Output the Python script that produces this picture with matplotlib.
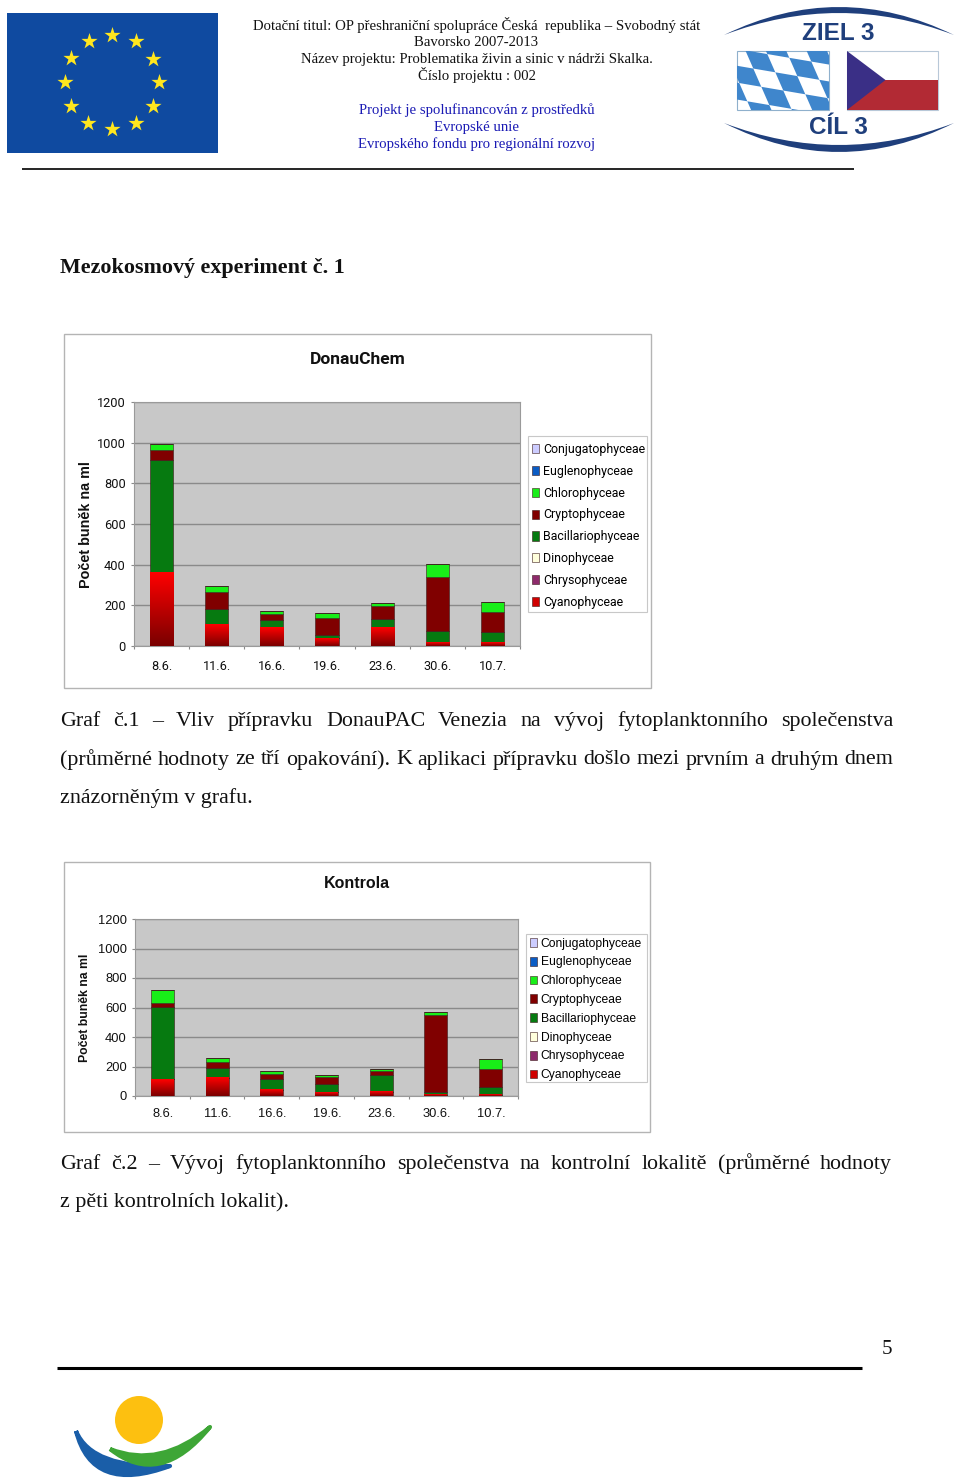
import numpy as np
import matplotlib
matplotlib.use('Agg')
import matplotlib.pyplot as plt
from matplotlib.colors import LinearSegmentedColormap
from matplotlib.patches import Rectangle, Polygon, PathPatch, Circle
from matplotlib.path import Path

W, H = 960, 1482
SERIF = ['Liberation Serif', 'DejaVu Serif']
SANS = ['Liberation Sans', 'DejaVu Sans']
NARROW = ['Roboto', 'Liberation Sans', 'DejaVu Sans']

dates = ['8.6.', '11.6.', '16.6.', '19.6.', '23.6.', '30.6.', '10.7.']
y_ticks = [0, 200, 400, 600, 800, 1000, 1200]

series_names = ['Cyanophyceae', 'Chrysophyceae', 'Dinophyceae', 'Bacillariophyceae',
                'Cryptophyceae', 'Chlorophyceae', 'Euglenophyceae', 'Conjugatophyceae']
series_colors = ['#d00000', '#8e2a6c', '#ffffdc', '#067a10',
                 '#800000', '#18ee18', '#0a5cc4', '#ccccff']

# DonauChem, bottom to top
d_cyano = [360, 105, 90, 38, 92, 15, 18]
d_chryso = [0, 0, 0, 0, 0, 0, 0]
d_dino = [0, 0, 0, 0, 0, 0, 0]
d_bacil = [555, 75, 40, 17, 43, 57, 50]
d_crypto = [50, 85, 28, 83, 60, 266, 99]
d_chloro = [28, 30, 14, 22, 15, 64, 51]
d_eugl = [0, 0, 0, 0, 0, 0, 0]
d_conj = [0, 0, 0, 0, 0, 0, 0]

# Kontrola, bottom to top
k_cyano = [115, 125, 42, 25, 30, 8, 10]
k_chryso = [0, 0, 0, 0, 0, 0, 0]
k_dino = [0, 0, 0, 0, 0, 0, 0]
k_bacil = [490, 63, 70, 53, 115, 17, 52]
k_crypto = [27, 42, 38, 52, 25, 523, 120]
k_chloro = [88, 25, 20, 15, 15, 22, 66]
k_eugl = [0, 0, 0, 0, 0, 0, 0]
k_conj = [0, 0, 0, 0, 0, 0, 0]

header_black = ['Dotační titul: OP přeshraniční spolupráce Česká  republika – Svobodný stát',
                'Bavorsko 2007-2013',
                'Název projektu: Problematika živin a sinic v nádrži Skalka.',
                'Číslo projektu : 002']
header_blue = ['Projekt je spolufinancován z prostředků',
               'Evropské unie',
               'Evropského fondu pro regionální rozvoj']

BODY = 15.8

fig = plt.figure(figsize=(W / 100, H / 100), dpi=100, facecolor='white')
page = fig.add_axes([0, 0, 1, 1])
page.set_xlim(0, W)
page.set_ylim(H, 0)
page.axis('off')


def justified(line, x0, x1, y):
    # spread the words of one line between x0 and x1, like the Word page does
    words = line.split(' ')
    rend = fig.canvas.get_renderer()
    items = [page.text(x0, y, w, family=SERIF, fontsize=BODY, va='baseline', color='#111111') for w in words]
    widths = [t.get_window_extent(rend).width for t in items]
    gap = (x1 - x0 - sum(widths)) / (len(words) - 1)
    x = x0
    for t, w in zip(items, widths):
        t.set_x(x)
        x += w + gap


def crescent(x0, x1, y_end, c_in, c_out, color):
    mid = (x0 + x1) / 2
    verts = [(x0, y_end), (mid, c_out), (x1, y_end), (mid, c_in), (x0, y_end)]
    codes = [Path.MOVETO, Path.CURVE3, Path.CURVE3, Path.CURVE3, Path.CURVE3]
    page.add_patch(PathPatch(Path(verts, codes), fc=color, ec='none'))


def stroke(p0, c, p1, thick, color):
    # brush stroke of the bottom logo
    verts = [p0, (c[0], c[1] - thick), p1, (c[0], c[1] + thick), p0]
    codes = [Path.MOVETO, Path.CURVE3, Path.CURVE3, Path.CURVE3, Path.CURVE3]
    page.add_patch(PathPatch(Path(verts, codes), fc=color, ec=color, lw=3, joinstyle='round'))


def chart(box, plot, legend_box, title, title_y, title_font, title_size, ylab_x, ylab_y, ylab_size,
          tick_font, tick_size, label_y, values, leg_size, leg_font, leg_top, leg_gap):
    page.add_patch(Rectangle((box[0], box[1]), box[2] - box[0], box[3] - box[1], fc='white', ec='#b4b4b4', lw=1))
    page.add_patch(Rectangle((legend_box[0], legend_box[1]), legend_box[2] - legend_box[0],
                             legend_box[3] - legend_box[1], fc='white', ec='#c8c8c8', lw=0.8))
    page.text((box[0] + box[2]) / 2 + 0.5, title_y, title, family=title_font, fontsize=title_size,
              fontweight='bold', ha='center', va='center', color='#111111')
    page.text(ylab_x, ylab_y, 'Počet buněk na ml', family=SANS, fontsize=ylab_size,
              fontweight='bold', rotation=90, ha='center', va='center', color='#111111')

    ax = fig.add_axes([plot[0] / W, 1 - plot[3] / H, (plot[2] - plot[0]) / W, (plot[3] - plot[1]) / H])
    ax.set_facecolor('#c8c8c8')
    x = np.arange(len(dates))
    bottom = np.zeros(len(dates))
    handles = []
    for vals, name, col in zip(values, series_names, series_colors):
        bars = ax.bar(x, vals, 0.42, bottom=bottom, color=col, edgecolor='#3a1a1a', linewidth=0.4,
                      label=name, zorder=3)
        handles.append(bars)
        bottom = bottom + np.array(vals)

    # Cyanophyceae fade to dark towards the axis in the original
    cm = LinearSegmentedColormap.from_list('fade', ['#7a0000', '#ff0000'])
    for p in handles[0]:
        ax.imshow(np.linspace(1, 0, 64).reshape(-1, 1), cmap=cm, aspect='auto', zorder=3.5,
                  extent=(p.get_x(), p.get_x() + p.get_width(), 0, p.get_height()))

    ax.set_xlim(-0.5, len(dates) - 0.5)
    ax.set_ylim(0, 1200)
    ax.set_yticks(y_ticks)
    ax.set_yticklabels([str(v) for v in y_ticks], family=tick_font, fontsize=tick_size, color='#111111')
    ax.set_xticks(np.arange(len(dates) + 1) - 0.5)
    ax.set_xticklabels([''] * (len(dates) + 1))
    ax.grid(axis='y', color='#8a8a8a', lw=1, zorder=1)
    ax.tick_params(axis='y', length=2.5, color='#8a8a8a', pad=3.5)
    ax.tick_params(axis='x', length=2.5, color='#8a8a8a')
    for s in ax.spines.values():
        s.set_color('#9a9a9a')
        s.set_linewidth(0.8)
    for i, d in enumerate(dates):
        page.text(plot[0] + (i + 0.5) * (plot[2] - plot[0]) / 7 + 0.5, label_y, d, family=tick_font,
                  fontsize=tick_size, ha='center', va='center', color='#111111')

    # legend: topmost series first, like the Excel chart
    hs = [h[0] for h in handles][::-1]
    leg = ax.legend(hs, series_names[::-1], loc='upper left',
                    bbox_to_anchor=(legend_box[0] / W, 1 - leg_top / H), bbox_transform=fig.transFigure,
                    prop={'family': leg_font, 'size': leg_size}, frameon=False, borderaxespad=0, borderpad=0.3,
                    handlelength=0.62, handleheight=0.75, handletextpad=0.3, labelspacing=leg_gap)
    leg.set_zorder(10)
    return ax


# header logos
page.add_patch(Rectangle((7, 13), 211, 140, fc='#0f4aa0', ec='none'))
angles = np.arange(12) * np.pi / 6
page.scatter(112 + 47 * np.sin(angles), 82 + 47 * np.cos(angles), marker='*', s=150, c='#ffe61e', linewidths=0, zorder=3)

crescent(724, 954, 35, -9, -21, '#1f3f7c')
crescent(724, 954, 123, 167, 181, '#1f3f7c')
page.text(838, 33, 'ZIEL 3', family=SANS, fontsize=17.5, fontweight='bold', ha='center', va='center', color='#1f3f7c')
page.text(838, 128, 'CÍL 3', family=SANS, fontsize=17.5, fontweight='bold', ha='center', va='center', color='#1f3f7c')

bav = Rectangle((737, 51), 92, 59, fc='white', ec='#8fb0cc', lw=0.8)
page.add_patch(bav)
u = np.array([30.0, 22.0])
v = np.array([-14.0, 14.5])
anchor = np.array([760.3, 61.3])
for i in range(-5, 6):
    for j in range(-5, 6):
        c = anchor + i * u + j * v
        poly = Polygon([c - u / 2, c - v / 2, c + u / 2, c + v / 2], fc='#3f86cc', ec='none')
        page.add_patch(poly)
        poly.set_clip_path(bav)
page.add_patch(Rectangle((847, 51), 91, 59, fc='white', ec='#b8c8d8', lw=0.8))
page.add_patch(Rectangle((847, 80), 91, 30, fc='#b22a34', ec='none'))
page.add_patch(Polygon([(847, 51), (885.5, 80), (847, 110)], fc='#3a2f86', ec='none'))

for line, y in zip(header_black, [25, 42, 59, 75]):
    page.text(476.5, y, line, family=SERIF, fontsize=10.6, ha='center', va='center', color='#111111')
for line, y in zip(header_blue, [110, 127, 144]):
    page.text(476.5, y, line, family=SERIF, fontsize=10.6, ha='center', va='center', color='#1a1ab4')
page.plot([22, 854], [169, 169], color='black', lw=1.2, solid_capstyle='butt')

page.text(60, 273, 'Mezokosmový experiment č. 1', family=SERIF, fontsize=15.8, fontweight='bold', va='baseline', color='#111111')

chart((63.5, 333.5, 651, 688), (134, 402, 520, 646), (528, 436, 647, 612), 'DonauChem', 359, NARROW, 12.5,
      86, 524.5, 10.4, NARROW, 9.2, 667,
      [d_cyano, d_chryso, d_dino, d_bacil, d_crypto, d_chloro, d_eugl, d_conj], 8.9, NARROW, 439, 0.72)
chart((63.5, 861.5, 650, 1132), (135, 919, 518, 1096), (526, 934, 647, 1082), 'Kontrola', 884, SANS, 11.5,
      85.5, 1008, 8.8, SANS, 9.3, 1114,
      [k_cyano, k_chryso, k_dino, k_bacil, k_crypto, k_chloro, k_eugl, k_conj], 8.75, SANS, 934, 0.56)

justified('Graf č.1 – Vliv přípravku DonauPAC Venezia na vývoj fytoplanktonního společenstva', 60, 893, 726)
justified('(průměrné hodnoty ze tří opakování). K aplikaci přípravku došlo mezi prvním a druhým dnem', 60, 893, 764.5)
page.text(60, 802.5, 'znázorněným v grafu.', family=SERIF, fontsize=BODY, va='baseline', color='#111111')
justified('Graf č.2 – Vývoj fytoplanktonního společenstva na kontrolní lokalitě (průměrné hodnoty', 60, 892, 1169)
page.text(60, 1207, 'z pěti kontrolních lokalit).', family=SERIF, fontsize=BODY, va='baseline', color='#111111')

page.text(887, 1349, '5', family=SERIF, fontsize=15, ha='center', va='center', color='#111111')
page.plot([57, 862], [1368, 1368], color='black', lw=2.2, solid_capstyle='butt')

# bottom logo
page.add_patch(Circle((139, 1420), 24, fc='#fdc010', ec='none'))
stroke((76, 1431), (92, 1482), (170, 1466), 13, '#1a5ea8')
stroke((110, 1449), (160, 1479), (210, 1427), 10, '#3ea636')

fig.savefig('out.png', dpi=100, facecolor='white')
